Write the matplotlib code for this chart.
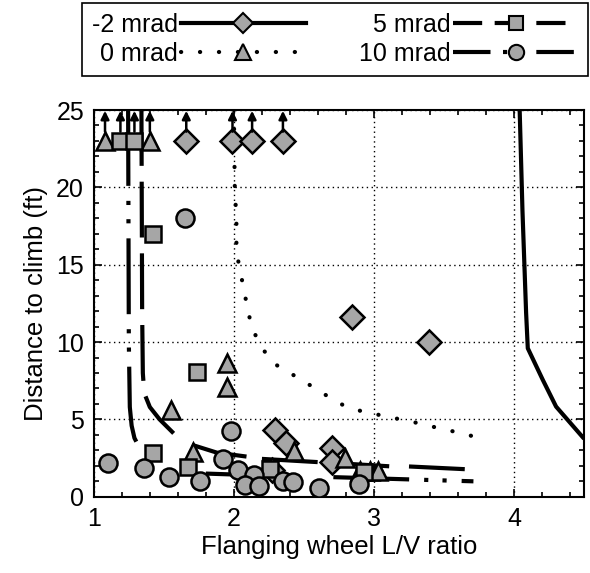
import numpy as np
import matplotlib
matplotlib.use('Agg')
import matplotlib.pyplot as plt
from matplotlib.lines import Line2D
from matplotlib.ticker import MultipleLocator

plt.rcParams['font.family'] = ['Liberation Sans', 'DejaVu Sans']

# measured tests (distance to climb vs flanging wheel L/V)
m2_x = [1.66, 1.99, 2.13, 2.35, 2.84, 3.39, 2.29, 2.37, 2.70, 2.70, 2.27]   # -2 mrad
m2_y = [23, 23, 23, 23, 11.65, 10.0, 4.33, 3.5, 3.15, 2.28, 1.75]
z_x = [1.08, 1.40, 1.95, 1.95, 1.55, 1.71, 2.43, 2.79, 2.90, 2.97, 3.03]   # 0 mrad
z_y = [23, 23, 8.64, 7.09, 5.62, 2.9, 2.93, 2.5, 1.64, 1.64, 1.64]
f_x = [1.19, 1.29, 1.42, 1.74, 1.42, 1.67, 2.26, 2.93]                      # 5 mrad
f_y = [23, 23, 17.0, 8.05, 2.8, 1.95, 1.8, 1.6]
t_x = [1.65, 1.98, 1.10, 1.36, 1.54, 1.76, 1.92, 2.03, 2.14, 2.08, 2.18, 2.35, 2.42, 2.61, 2.89]  # 10 mrad
t_y = [18.0, 4.26, 2.18, 1.85, 1.31, 0.99, 2.44, 1.74, 1.42, 0.78, 0.67, 0.99, 0.95, 0.56, 0.8]

# tests that did not climb within 25 ft (arrows)
arrow_x = [1.08, 1.19, 1.29, 1.40, 1.66, 1.99, 2.13, 2.35]
arrow_y = [23, 23, 23, 23, 23, 23, 23, 23]

# simulation curves
m2_line_x = [[4.04, 4.06, 4.086, 4.098, 4.205, 4.30, 4.5], [1.70, 1.88, 2.09]]
m2_line_y = [[25, 18.5, 11.9, 9.6, 7.56, 5.83, 3.75], [3.36, 2.85, 2.6]]
z_line_x = [[2.0, 2.006, 2.018, 2.018, 2.046, 2.07, 2.098, 2.125, 2.19, 2.277, 2.41,
             2.546, 2.68, 2.81, 2.94, 3.07, 3.206, 3.337, 3.46, 3.59, 3.73]]
z_line_y = [[25, 20.15, 17.8, 15.8, 14.6, 13.4, 12.2, 11.0, 9.77, 8.66, 7.95,
             7.2, 6.44, 5.77, 5.47, 5.23, 4.97, 4.72, 4.44, 4.18, 3.86]]
f_line_x = [[1.34, 1.345, 1.35, 1.36, 1.40, 1.47, 1.57], [2.2, 2.87, 3.13], [3.25, 3.66]]
f_line_y = [[25, 12, 8.0, 6.7, 5.8, 5.0, 4.1], [2.45, 2.1, 1.96], [1.96, 1.78]]
t_line_x = [[1.245, 1.25, 1.257, 1.27, 1.29, 1.33, 1.364, 1.448], [2.71, 3.71], [1.80, 2.47]]
t_line_y = [[25, 10, 5.8, 4.6, 3.8, 3.1, 2.84, 2.6], [1.27, 1.0], [1.5, 1.3]]

labels = ['-2 mrad', '0 mrad', '5 mrad', '10 mrad']
styles = ['-', (0, (0.05, 4.5)), (0, (13.4, 3.8)), (0, (18.2, 3.6, 1, 3.4, 1, 3.6))]
markers = ['D', '^', 's', 'o']
msizes = [12, 13, 12, 13]

fig = plt.figure(figsize=(5.9, 5.73), dpi=100)
ax = fig.add_axes([0.159, 0.133, 0.831, 0.675])

lw = 3
gray = '#a6a6a6'
all_lx = [m2_line_x, z_line_x, f_line_x, t_line_x]
all_ly = [m2_line_y, z_line_y, f_line_y, t_line_y]
for k in range(4):
    for xs, ys in zip(all_lx[k], all_ly[k]):
        cap = 'round' if k == 1 else 'butt'
        ax.plot(xs, ys, color='black', lw=lw, linestyle=styles[k],
                dash_capstyle=cap, solid_capstyle='butt', zorder=3)

pts = [(m2_x, m2_y), (z_x, z_y), (f_x, f_y), (t_x, t_y)]
for k, (xs, ys) in enumerate(pts):
    ax.plot(xs, ys, linestyle='none', marker=markers[k], ms=msizes[k],
            mfc=gray, mec='black', mew=1.8, zorder=4)

for xa, ya in zip(arrow_x, arrow_y):
    ax.annotate('', xy=(xa, 24.95), xytext=(xa, ya + 0.6),
                arrowprops=dict(arrowstyle='-|>', color='black', lw=1.8,
                                mutation_scale=12, shrinkA=0, shrinkB=0), zorder=5)

ax.set_xlim(1, 4.5)
ax.set_ylim(0, 25)
ax.xaxis.set_major_locator(MultipleLocator(1))
ax.xaxis.set_minor_locator(MultipleLocator(0.2))
ax.yaxis.set_major_locator(MultipleLocator(5))
ax.yaxis.set_minor_locator(MultipleLocator(1))
ax.tick_params(which='both', direction='in', top=True, right=True, width=1.2)
ax.tick_params(which='major', length=6, labelsize=18, pad=7)
ax.tick_params(which='minor', length=3.5)
ax.grid(True, which='major', color='black', linestyle=(0, (1, 2.5)), lw=1)
for s in ax.spines.values():
    s.set_linewidth(1.5)

ax.set_xlabel('Flanging wheel L/V ratio', fontsize=18.5, labelpad=3)
ax.set_ylabel('Distance to climb (ft)', fontsize=18.5, labelpad=6)

# legend samples use shorter dashes so the pattern shows in the short handle
leg_styles = ['-', (0, (0.05, 4.5)), (0, (7, 3, 7, 3)), (0, (9, 3, 1, 3, 1, 3))]
handles = []
for k in range(4):
    handles.append(Line2D([], [], color='black', lw=lw, linestyle=leg_styles[k],
                          dash_capstyle='round' if k == 1 else 'butt',
                          marker=markers[k], ms=msizes[k] - 2, mfc=gray,
                          mec='black', mew=1.5))
leg = fig.legend(handles, labels, ncol=2, markerfirst=False, numpoints=1,
                 loc='upper left', bbox_to_anchor=(0.139, 0.995),
                 fontsize=18, handlelength=5.0,
                 handletextpad=0.1, labelspacing=0.2, borderpad=0.4,
                 columnspacing=2.15, fancybox=False, framealpha=1, borderaxespad=0)
leg.get_frame().set_edgecolor('black')
leg.get_frame().set_linewidth(1.2)

fig.savefig('out.png', dpi=100)
